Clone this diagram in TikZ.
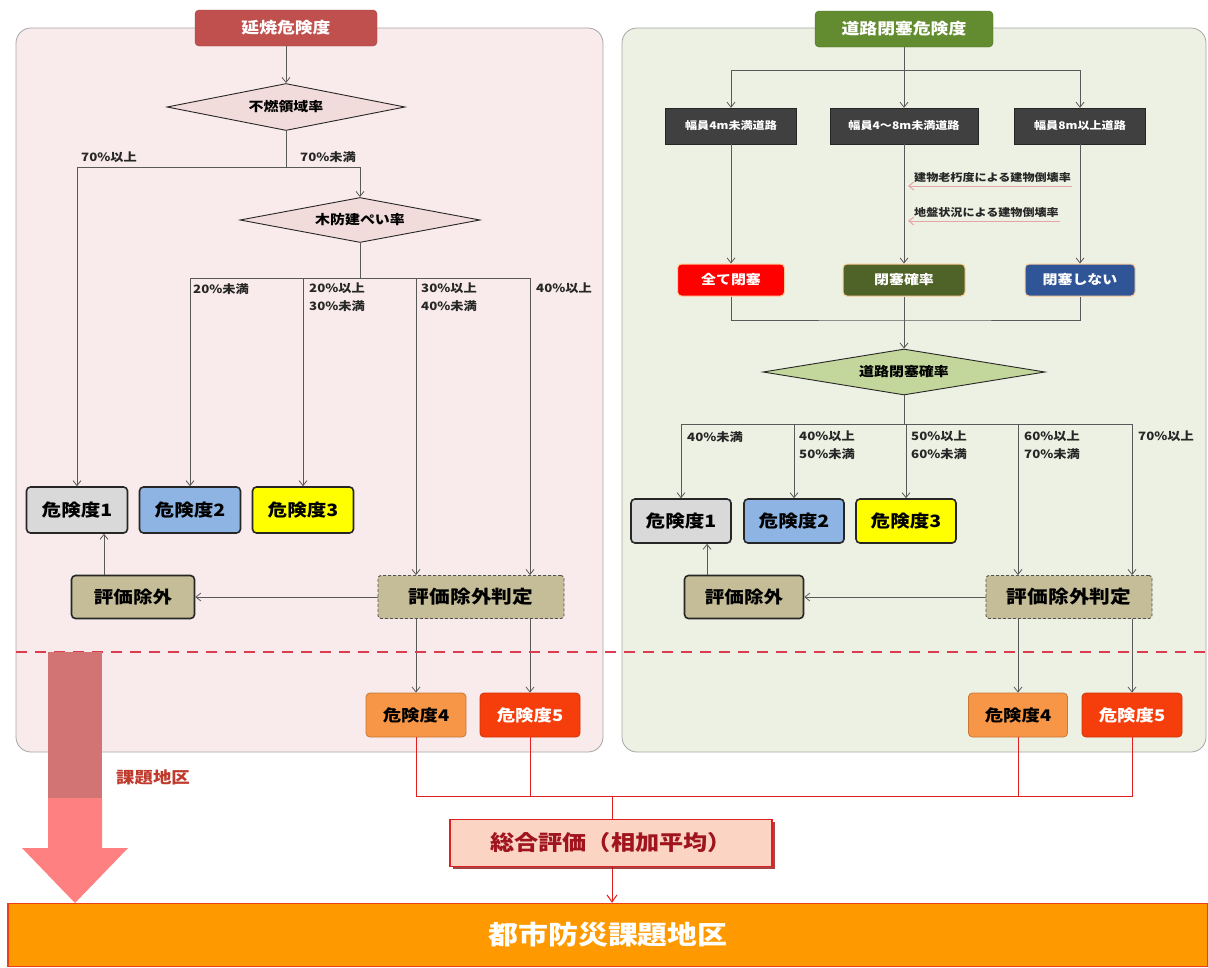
\documentclass[tikz,border=0pt]{standalone}
\usepackage{fontspec}
\setmainfont{Noto Sans CJK JP}[FakeStretch=1.15]
\usetikzlibrary{arrows.meta,shapes.geometric,shadows,calc}
\definecolor{connc}{HTML}{595959}
\definecolor{boxbd}{HTML}{262626}
\definecolor{panLf}{HTML}{F9EBEB}
\definecolor{panRf}{HTML}{EDF1E3}
\definecolor{panbd}{HTML}{A6A6A6}
\definecolor{titLc}{HTML}{C0504D}
\definecolor{titRc}{HTML}{628C2F}
\definecolor{diaL}{HTML}{F2DCDB}
\definecolor{diaR}{HTML}{C3D69B}
\definecolor{lv1}{HTML}{D9D9D9}
\definecolor{lv2}{HTML}{8DB4E2}
\definecolor{lv3}{HTML}{FFFF00}
\definecolor{exc}{HTML}{C4BD97}
\definecolor{lv4c}{HTML}{F79646}
\definecolor{lv5c}{HTML}{F53E0B}
\definecolor{roadc}{HTML}{404040}
\definecolor{allc}{HTML}{FF0000}
\definecolor{probc}{HTML}{4F6228}
\definecolor{nonec}{HTML}{2F5597}
\definecolor{notec}{HTML}{E6A5A5}
\definecolor{dashc}{HTML}{DC3C50}
\definecolor{redl}{HTML}{E02020}
\definecolor{barc}{HTML}{FF9900}
\definecolor{barbd}{HTML}{E8401A}
\definecolor{arrdk}{HTML}{D27474}
\definecolor{arrlt}{HTML}{FF8080}
\definecolor{sogof}{HTML}{FBD4C4}
\definecolor{sogot}{HTML}{A0141E}
\definecolor{sogosh}{HTML}{8B1A1A}
\definecolor{kadaic}{HTML}{C0392B}
\begin{document}
\begin{tikzpicture}[x=1pt,y=-1pt,
  conn/.style={draw=connc, line width=0.8pt},
  arr/.style={conn, -{Straight Barb[length=5pt,width=8pt]}},
  redline/.style={draw=redl, line width=1pt},
  panel/.style={draw=panbd, line width=0.8pt, rounded corners=15pt},
  titlebox/.style={rounded corners=4pt, minimum height=36pt, inner sep=0pt, text=white, font=\fontsize{15.5}{18}\selectfont\bfseries},
  dia/.style={diamond, shape aspect=6, draw=boxbd, line width=0.9pt, inner sep=0pt, font=\fontsize{13}{15}\selectfont\bfseries},
  lvl/.style={draw=boxbd, line width=1.6pt, rounded corners=4pt, minimum width=101pt, minimum height=46pt, inner sep=0pt, font=\fontsize{17}{20}\selectfont\bfseries},
  excl/.style={lvl, fill=exc, minimum height=43pt},
  judge/.style={draw=boxbd!80, line width=0.9pt, dash pattern=on 3pt off 2pt, rounded corners=3pt, fill=exc, minimum height=43pt, inner sep=0pt, font=\fontsize{18}{21}\selectfont\bfseries},
  lvfour/.style={draw=lv4c!80!black, line width=0.8pt, rounded corners=4pt, fill=lv4c, minimum width=100pt, minimum height=44pt, inner sep=0pt, font=\fontsize{16}{19}\selectfont\bfseries},
  lvfive/.style={lvfour, draw=lv5c!85!black, fill=lv5c, text=white},
  road/.style={draw=boxbd, fill=roadc, text=white, minimum height=36pt, inner sep=0pt, font=\fontsize{10.5}{12}\selectfont\bfseries},
  rbox/.style={draw=orange!40, line width=1pt, rounded corners=4pt, text=white, minimum height=32pt, inner sep=0pt, font=\fontsize{13}{15}\selectfont\bfseries},
  lab/.style={anchor=north west, align=left, inner sep=0pt, text=black!85, font=\fontsize{11.5}{17.5}\selectfont\bfseries},
  note/.style={anchor=south west, inner sep=1pt, text=black!85, font=\fontsize{10.5}{12}\selectfont\bfseries},
  notearr/.style={draw=notec, line width=1pt, -{Straight Barb[length=5pt,width=8pt]}}
]
\useasboundingbox (0,0) rectangle (1208,967);
\fill[white] (0,0) rectangle (1208,967);
% panels
\draw[panel, fill=panLf] (16,28) rectangle (603,752);
\draw[panel, fill=panRf] (622,28) rectangle (1206,752);
% ---------------- left
\node[titlebox, fill=titLc, draw=titLc!80!black, minimum width=182pt] (tL) at (286,28) {延焼危険度};
\node[dia, fill=diaL, minimum width=238pt, minimum height=47pt] (d1) at (286,107) {不燃領域率};
\coordinate (j1) at (286,167);
\node[dia, fill=diaL, minimum width=240pt, minimum height=45pt] (d2) at (360,220) {木防建ぺい率};
\coordinate (j2) at (360,278);
\node[lvl, fill=lv1] (a1) at (77,510) {危険度1};
\node[lvl, fill=lv2] (a2) at (190,510) {危険度2};
\node[lvl, fill=lv3] (a3) at (303,510) {危険度3};
\node[excl, minimum width=123pt] (ax) at (133,597) {評価除外};
\node[judge, minimum width=186pt] (aj) at (471,597) {評価除外判定};
\node[lvfour] (a4) at (416,715) {危険度4};
\node[lvfive] (a5) at (530,715) {危険度5};
\draw[arr] (tL.south) -- (d1.north);
\draw[conn] (d1.south) -- (j1);
\draw[arr] (j1) -| (a1.north);
\draw[arr] (j1) -| (d2.north);
\draw[conn] (d2.south) -- (j2);
\draw[arr] (j2) -| (a2.north);
\draw[arr] (j2) -| (a3.north);
\draw[arr] (j2) -| (aj.north -| a4.north);
\draw[arr] (j2) -| (aj.north -| a5.north);
\draw[arr] (aj.west) -- (ax.east);
\draw[arr] ([xshift=-29pt]ax.north) -- ([xshift=-29pt]ax.north |- a1.south);
\draw[arr] (aj.south -| a4.north) -- (a4.north);
\draw[arr] (aj.south -| a5.north) -- (a5.north);
\node[lab, anchor=west] at (81,157) {70\%以上};
\node[lab, anchor=west] at (300,157) {70\%未満};
\node[lab] at (193,283) {20\%未満};
\node[lab] at (309,283) {20\%以上\\30\%未満};
\node[lab] at (421,283) {30\%以上\\40\%未満};
\node[lab] at (536,283) {40\%以上};
% ---------------- right
\node[titlebox, fill=titRc, draw=titRc!80!black, minimum width=178pt] (tR) at (904,29) {道路閉塞危険度};
\coordinate (r0) at (904,70);
\node[road, minimum width=131pt] (b1) at (731,126) {幅員4m未満道路};
\node[road, minimum width=148pt] (b2) at (904,126) {幅員4～8m未満道路};
\node[road, minimum width=131pt] (b3) at (1080,126) {幅員8m以上道路};
\draw[arr] (tR.south) -- (b2.north);
\draw[arr] (r0) -| (b1.north);
\draw[arr] (r0) -| (b3.north);
\node[rbox, fill=allc, minimum width=107pt] (s1) at (731,280) {全て閉塞};
\node[rbox, fill=probc, minimum width=122pt] (s2) at (904,280) {閉塞確率};
\node[rbox, fill=nonec, minimum width=110pt] (s3) at (1080,280) {閉塞しない};
\draw[arr] (b1.south) -- (s1.north);
\draw[arr] (b2.south) -- (s2.north);
\draw[arr] (b3.south) -- (s3.north);
\node[note] (n1) at (913,184) {建物老朽度による建物倒壊率};
\node[note] (n2) at (913,219) {地盤状況による建物倒壊率};
\draw[notearr] ([yshift=-2pt]n1.south east) -- ([yshift=-2pt,xshift=4pt]n1.south east -| b2.south);
\draw[notearr] ([yshift=-2pt]n2.south east) -- ([yshift=-2pt,xshift=4pt]n2.south east -| b2.south);
\node[dia, fill=diaR, minimum width=282pt, minimum height=46pt] (dR) at (904,372) {道路閉塞確率};
\coordinate (r1) at (904,320);
\draw[conn] (s1.south) |- (r1) -| (s3.south);
\draw[arr] (s2.south) -- (dR.north);
\coordinate (r2) at (904,424);
\draw[conn] (dR.south) -- (r2);
\node[lvl, fill=lv1, minimum width=100pt, minimum height=44pt] (c1) at (681,521) {危険度1};
\node[lvl, fill=lv2, minimum width=100pt, minimum height=44pt] (c2) at (794,521) {危険度2};
\node[lvl, fill=lv3, minimum width=100pt, minimum height=44pt] (c3) at (906,521) {危険度3};
\node[excl, minimum width=119pt] (cx) at (744,597) {評価除外};
\node[judge, minimum width=166pt] (cj) at (1069,597) {評価除外判定};
\node[lvfour, minimum width=99pt] (c4) at (1018,715) {危険度4};
\node[lvfive] (c5) at (1132,715) {危険度5};
\draw[arr] (r2) -| (c1.north);
\draw[arr] (r2) -| (c2.north);
\draw[arr] (r2) -| (c3.north);
\draw[arr] (r2) -| (cj.north -| c4.north);
\draw[arr] (r2) -| (cj.north -| c5.north);
\draw[arr] (cj.west) -- (cx.east);
\draw[arr] ([xshift=-37pt]cx.north) -- ([xshift=-37pt]cx.north |- c1.south);
\draw[arr] (cj.south -| c4.north) -- (c4.north);
\draw[arr] (cj.south -| c5.north) -- (c5.north);
\node[lab] at (687,431) {40\%未満};
\node[lab] at (799,431) {40\%以上\\50\%未満};
\node[lab] at (911,431) {50\%以上\\60\%未満};
\node[lab] at (1024,431) {60\%以上\\70\%未満};
\node[lab] at (1138,431) {70\%以上};
% ---------------- dashed divider
\draw[dashc, line width=2.2pt, dash pattern=on 11pt off 8pt] (16,652) -- (1208,652);
% ---------------- big arrow
\fill[arrdk] (48,652) rectangle (102,798);
\fill[arrlt] (48,798) -- (102,798) -- (102,848) -- (128,848) -- (75,903) -- (22,848) -- (48,848) -- cycle;
\node[anchor=west, inner sep=0pt, text=kadaic, font=\fontsize{16}{18}\selectfont\bfseries] (kd) at (116,777) {課題地区};
% ---------------- bottom
\node[fill=barc, draw=barbd, line width=1.5pt, minimum width=1200pt, minimum height=63pt, inner sep=0pt, text=white, font=\fontsize{26}{30}\selectfont\bfseries] (bar) at (608,935) {都市防災課題地区};
\coordinate (jB) at (612,796);
\draw[redline] (a4.south) |- (jB) -| (c5.south);
\draw[redline] (a5.south) -- (a5.south |- jB);
\draw[redline] (c4.south) -- (c4.south |- jB);
\draw[redline, -{Straight Barb[length=7pt,width=10pt]}] (jB) -- (jB |- bar.north);
\node[fill=sogof, draw=redl, line width=1.5pt, minimum width=322pt, minimum height=47pt, inner sep=0pt, text=sogot, font=\fontsize{21}{24}\selectfont\bfseries, drop shadow={fill=sogosh, shadow xshift=2.5pt, shadow yshift=-2.5pt, opacity=0.8}] (sg) at (611,843) {総合評価（相加平均）};
\end{tikzpicture}
\end{document}
